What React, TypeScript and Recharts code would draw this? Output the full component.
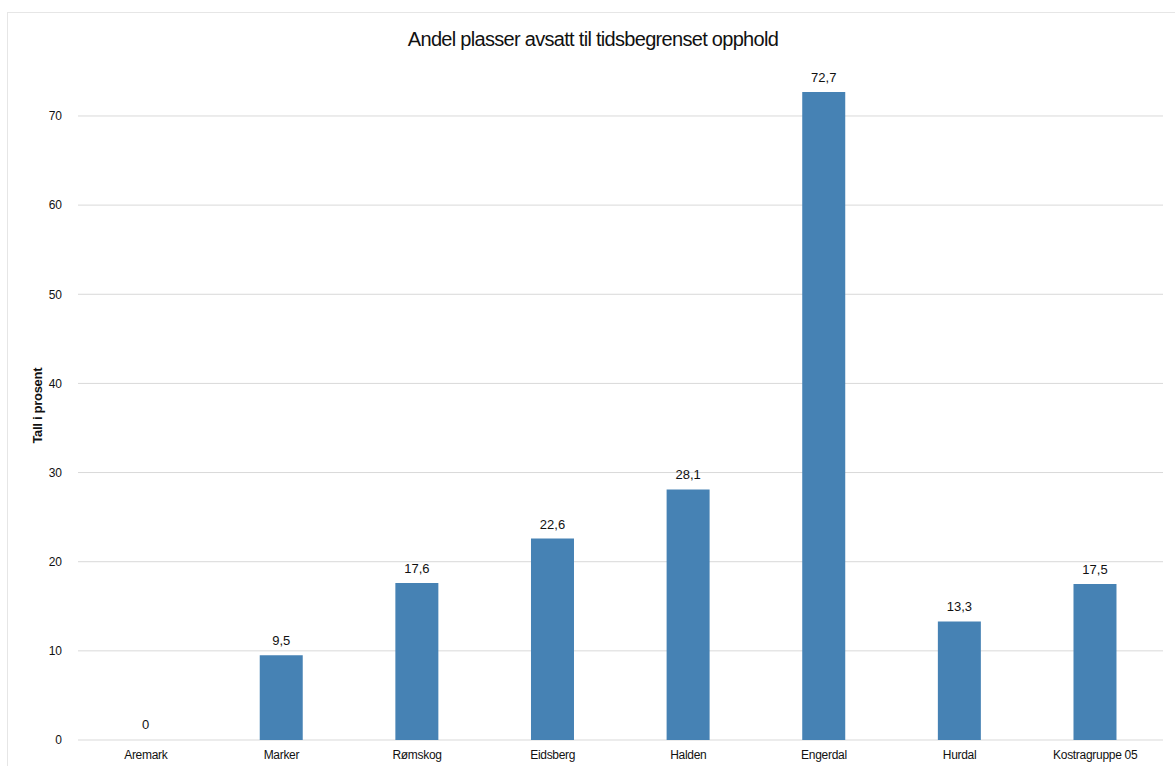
import React from 'react';
import { BarChart, Bar, XAxis, YAxis, CartesianGrid, LabelList, Label, Cell } from 'recharts';

const categories = ['Aremark', 'Marker', 'Rømskog', 'Eidsberg', 'Halden', 'Engerdal', 'Hurdal', 'Kostragruppe 05'];
const values = [0, 9.5, 17.6, 22.6, 28.1, 72.7, 13.3, 17.5];
const yTicks = [0, 10, 20, 30, 40, 50, 60, 70];
const title = 'Andel plasser avsatt til tidsbegrenset opphold';
const yTitle = 'Tall i prosent';

const data = categories.map((name, i) => ({ name, value: values[i] }));

const FONT = '"Liberation Sans", Arial, sans-serif';
const BAR = '#4682b4';

const fmt = (v: any) => String(v).replace('.', ',');

export default function App() {
  return (
    <div style={{ position: 'absolute', left: 0, top: 0, width: 1175, height: 766, background: '#fff', overflow: 'hidden', fontFamily: FONT }}>
      <div style={{ position: 'absolute', left: 7, top: 12, width: 1200, height: 800, border: '1px solid #e6e6e6', boxSizing: 'border-box' }} />
      <div style={{ position: 'absolute', left: 0, top: 28, width: 1186, textAlign: 'center', fontSize: 20, letterSpacing: -0.7, color: '#111', fontFamily: FONT }}>
        {title}
      </div>
      <div style={{ position: 'absolute', left: 0, top: 0 }}>
        <BarChart width={1175} height={766} data={data} margin={{ top: 71.4, right: 12, bottom: 0, left: 0 }} barCategoryGap="34%">
          <CartesianGrid vertical={false} stroke="#d9d9d9" horizontalValues={yTicks} />
          <XAxis dataKey="name" axisLine={false} tickLine={false} height={26} interval={0}
            tick={{ fontSize: 12, fill: '#111', fontFamily: FONT, letterSpacing: -0.3 }} tickMargin={4} />
          <YAxis domain={[0, 75]} ticks={yTicks} axisLine={false} tickLine={false} width={78}
            tick={{ fontSize: 12, fill: '#111', fontFamily: FONT }} tickMargin={10}>
            <Label content={(props: any) => {
              const vb = props.viewBox || { x: 0, y: 0, height: 0 };
              const cx = vb.x + 38;
              const cy = vb.y + vb.height / 2;
              return (
                <text x={cx} y={cy} transform={`rotate(-90, ${cx}, ${cy})`} textAnchor="middle" dominantBaseline="central"
                  fontSize={13} fontWeight="bold" fill="#111" fontFamily={FONT} letterSpacing={-0.3}>{yTitle}</text>
              );
            }} />
          </YAxis>
          <Bar dataKey="value" fill={BAR} isAnimationActive={false} minPointSize={1}>
            {data.map((d, i) => (
              <Cell key={i} fill={d.value === 0 ? 'none' : BAR} />
            ))}
            <LabelList dataKey="value" position="top" offset={10} formatter={fmt}
              style={{ fontSize: 13, fill: '#111', fontFamily: FONT }} />
          </Bar>
        </BarChart>
      </div>
    </div>
  );
}
